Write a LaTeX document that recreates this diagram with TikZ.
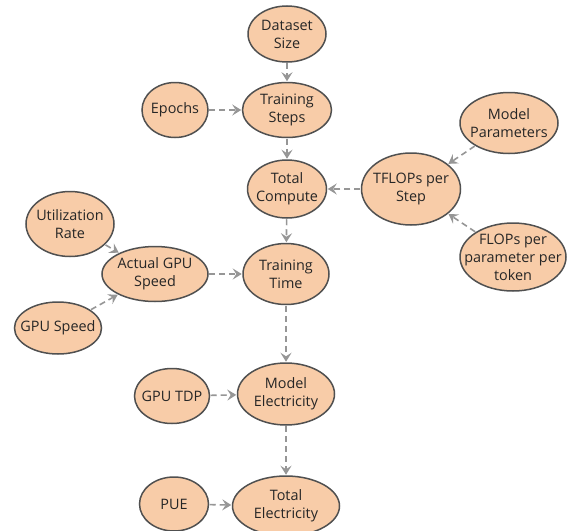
\documentclass[tikz,border=0pt]{standalone}
\usepackage{fontspec}
\setmainfont{Open Sans}
\usetikzlibrary{shapes.geometric,arrows.meta}
\definecolor{peach}{RGB}{248,204,168}
\definecolor{edge}{RGB}{80,80,80}
\definecolor{arr}{RGB}{150,150,150}
\tikzset{
  bub/.style={ellipse, draw=edge, fill=peach, line width=1.5pt, inner sep=-30pt,
    align=center, font=\fontsize{14.4}{18}\selectfont, text=black!85},
  link/.style={draw=arr, line width=1.6pt, dash pattern=on 6pt off 4pt,
    -{Stealth[length=9pt,width=11pt,inset=3.5pt]}, shorten >=0.5pt, shorten <=0.5pt}
}
\begin{document}
\begin{tikzpicture}[x=1pt,y=-1pt]
\useasboundingbox (0,0) rectangle (567,530);
\node[bub, minimum width=78pt, minimum height=56pt] (ds) at (287,34) {Dataset\\Size};
\node[bub, minimum width=66pt, minimum height=55pt] (ep) at (175,110) {Epochs};
\node[bub, minimum width=89pt, minimum height=55pt] (ts) at (287,110) {Training\\Steps};
\node[bub, minimum width=79pt, minimum height=58pt] (tc) at (287,189) {Total\\Compute};
\node[bub, minimum width=99pt, minimum height=72pt] (tf) at (411,189) {TFLOPs per\\Step};
\node[bub, minimum width=98pt, minimum height=61pt] (mp) at (509,123) {Model\\Parameters};
\node[bub, minimum width=106pt, minimum height=68pt] (fl) at (513,257) {FLOPs per\\parameter per\\token};
\node[bub, minimum width=88pt, minimum height=65pt] (ur) at (70,224) {Utilization\\Rate};
\node[bub, minimum width=106pt, minimum height=55pt] (ag) at (155,274) {Actual GPU\\Speed};
\node[bub, minimum width=87pt, minimum height=52pt] (gs) at (58,328) {GPU Speed};
\node[bub, minimum width=86pt, minimum height=61pt] (tt) at (286,274) {Training\\Time};
\node[bub, minimum width=97pt, minimum height=62pt] (me) at (286,394) {Model\\Electricity};
\node[bub, minimum width=75pt, minimum height=55pt] (gt) at (172,396) {GPU TDP};
\node[bub, minimum width=107pt, minimum height=60pt] (te) at (286,506) {Total\\Electricity};
\node[bub, minimum width=69pt, minimum height=54pt] (pu) at (174,504) {PUE};
\draw[link] (ds) -- (ts);
\draw[link] (ep) -- (ts);
\draw[link] (ts) -- (tc);
\draw[link] (tf) -- (tc);
\draw[link] (mp) -- (tf);
\draw[link] (fl) -- (tf);
\draw[link] (tc) -- (tt);
\draw[link] (ur) -- (ag);
\draw[link] (gs) -- (ag);
\draw[link] (ag) -- (tt);
\draw[link] (tt) -- (me);
\draw[link] (gt) -- (me);
\draw[link] (me) -- (te);
\draw[link] (pu) -- (te);
\end{tikzpicture}
\end{document}
